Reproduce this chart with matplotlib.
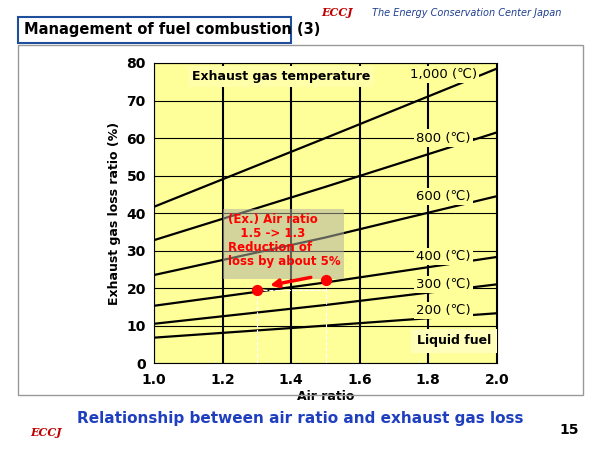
import matplotlib
matplotlib.use("Agg")
import matplotlib.pyplot as plt
from matplotlib.patches import Rectangle

air_ratio = [1.0, 1.5, 2.0]
temps = ["1,000 (\u2103)", "800 (\u2103)", "600 (\u2103)", "400 (\u2103)", "300 (\u2103)", "200 (\u2103)"]
loss_1000 = [41.7, 60.0, 78.5]
loss_800 = [32.8, 47.0, 61.5]
loss_600 = [23.5, 33.5, 44.5]
loss_400 = [15.3, 21.5, 28.3]
loss_300 = [10.5, 15.5, 21.0]
loss_200 = [6.8, 10.0, 13.3]
label_y = [77, 60, 44.5, 28.5, 21, 14]
example_x = [1.3, 1.5]
example_y = [19.6, 22.2]

fig = plt.figure(figsize=(6, 4.5), dpi=100)
fig.patch.set_facecolor("white")

# slide frame and header
fig.patches.append(Rectangle((0.03, 0.122), 0.942, 0.778, transform=fig.transFigure,
                             fill=False, ec="#999999", lw=1))
fig.patches.append(Rectangle((0.03, 0.905), 0.455, 0.058, transform=fig.transFigure,
                             fill=False, ec="#1f4e9c", lw=1.5))
fig.text(0.04, 0.934, "Management of fuel combustion (3)", fontsize=10.5,
         fontweight="bold", va="center")
fig.text(0.535, 0.972, "ECCJ", fontsize=8, color="#c00000", fontweight="bold",
         style="italic", va="center", family="serif")
fig.text(0.62, 0.972, "The Energy Conservation Center Japan", fontsize=7,
         style="italic", color="#1f3f8f", va="center")
fig.text(0.05, 0.04, "ECCJ", fontsize=8, color="#c00000", fontweight="bold",
         style="italic", va="center", family="serif")
fig.text(0.5, 0.07, "Relationship between air ratio and exhaust gas loss", fontsize=11,
         fontweight="bold", color="#1f3fbf", ha="center", va="center")
fig.text(0.965, 0.045, "15", fontsize=10, fontweight="bold", ha="right", va="center")

ax = fig.add_axes([0.257, 0.193, 0.571, 0.667])
ax.set_facecolor("#ffff99")
for s in [loss_1000, loss_800, loss_600, loss_400, loss_300, loss_200]:
    ax.plot(air_ratio, s, color="black", lw=1.6, zorder=3)
ax.set_xlim(1.0, 2.0)
ax.set_ylim(0, 80)
ax.set_xticks([1.0, 1.2, 1.4, 1.6, 1.8, 2.0])
ax.set_yticks(range(0, 81, 10))
ax.xaxis.set_major_formatter(matplotlib.ticker.FormatStrFormatter("%.1f"))
ax.grid(axis="y", color="black", lw=0.8)
ax.grid(axis="x", color="black", lw=1.5)
ax.tick_params(length=0, labelsize=10)
ax.tick_params(axis="x", pad=7)
ax.tick_params(axis="y", pad=6)
for t in ax.get_xticklabels() + ax.get_yticklabels():
    t.set_fontweight("bold")
ax.set_xlabel("Air ratio", fontsize=9, fontweight="bold", labelpad=2)
ax.set_ylabel("Exhaust gas loss ratio (%)", fontsize=9, fontweight="bold")

for lab, yy in zip(temps, label_y):
    ax.text(1.845, yy, lab, fontsize=9.5, ha="center", va="center", zorder=4,
            bbox=dict(fc="#ffff99", ec="none", pad=1.5))
ax.text(1.37, 76.5, "Exhaust gas temperature", fontsize=9, fontweight="bold",
        ha="center", va="center", zorder=4, bbox=dict(fc="#ffffaa", ec="none", pad=3))
ax.text(1.875, 6, "Liquid fuel", fontsize=9, fontweight="bold", ha="center",
        va="center", zorder=4, bbox=dict(fc="#ffffbb", ec="none", pad=4))

ax.add_patch(Rectangle((1.2, 22.5), 0.355, 18.5, fc="#b0b0a0", alpha=0.55, ec="none", zorder=4))
ax.text(1.215, 40, "(Ex.) Air ratio\n   1.5 -> 1.3\nReduction of\nloss by about 5%",
        fontsize=8.5, color="red", fontweight="bold", va="top", zorder=5, linespacing=1.1)
for xx, yy in zip(example_x, example_y):
    ax.plot([xx, xx], [0, yy], color="white", lw=0.8, ls="--", zorder=4)
ax.plot([1.3, 1.5], [19.6, 19.6], color="white", lw=0.8, ls="--", zorder=4)
ax.scatter(example_x, example_y, s=50, color="red", zorder=6)
ax.annotate("", xy=(1.33, 20.6), xytext=(1.465, 23.0), zorder=6,
            arrowprops=dict(arrowstyle="-|>", color="red", lw=2.5, mutation_scale=12))

fig.savefig("out.png", dpi=100)
